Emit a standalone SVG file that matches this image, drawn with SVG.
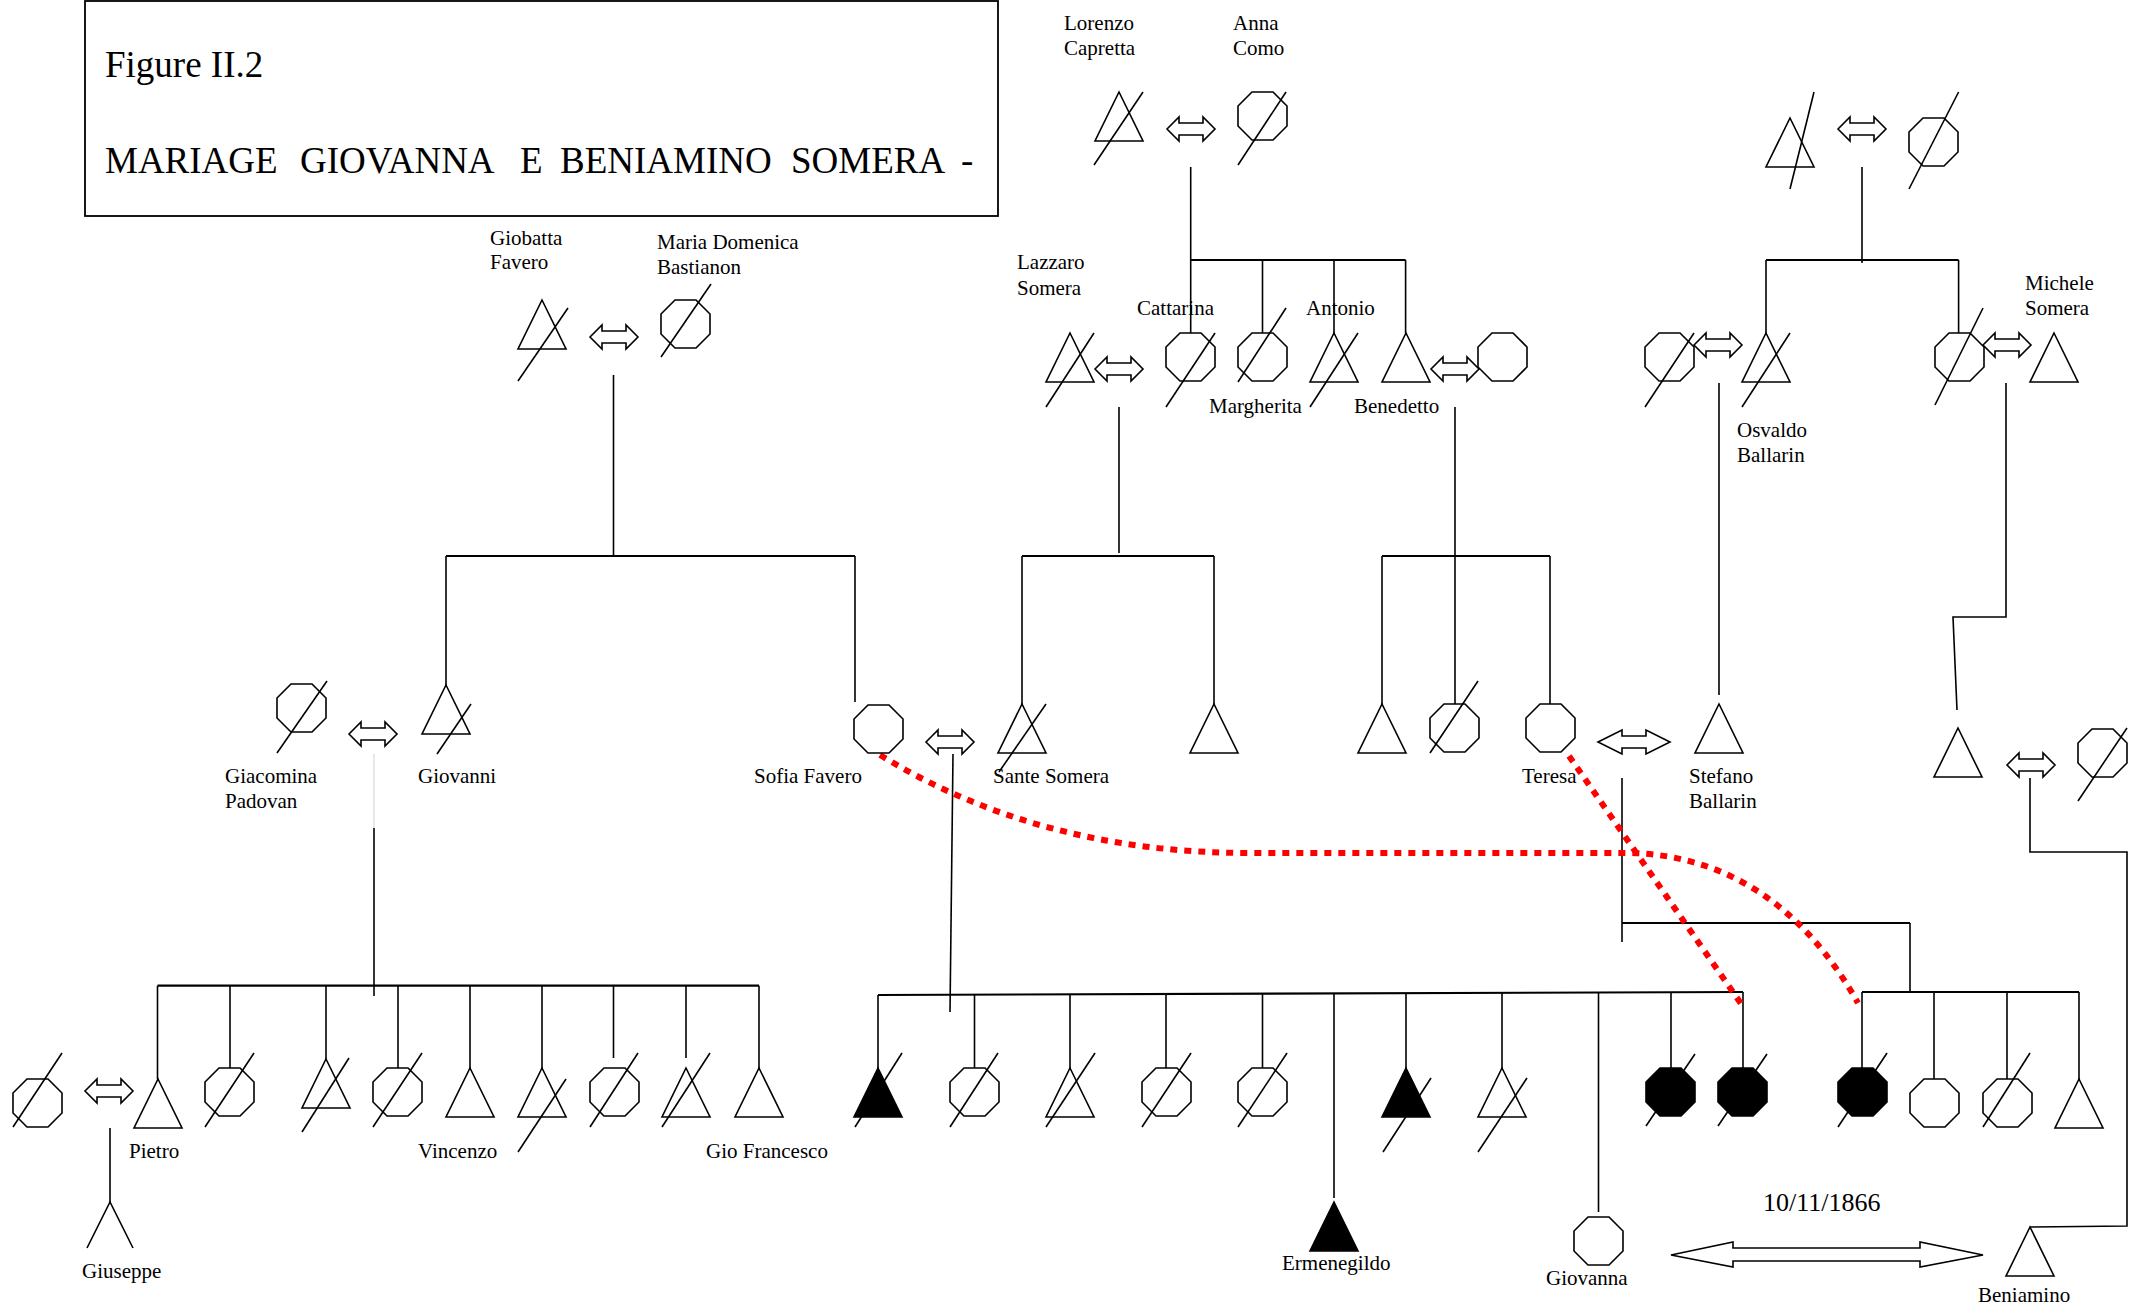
<svg xmlns="http://www.w3.org/2000/svg" xmlns:xlink="http://www.w3.org/1999/xlink" width="2150" height="1312" viewBox="0 0 2150 1312">
<style>
.s{fill:#fff;stroke:#000;stroke-width:1.6}
.b{fill:#000;stroke:#000;stroke-width:1.6}
.ln{stroke:#000;stroke-width:1.6;fill:none}
.hl{stroke:#000;stroke-width:2.2;fill:none}
.t{font-family:"Liberation Serif","Times New Roman",serif;font-size:21px;fill:#000}
.big{font-family:"Liberation Serif","Times New Roman",serif;font-size:37px;fill:#000}
.red{stroke:#ff0000;stroke-width:6;stroke-dasharray:7 7;fill:none}
</style>
<defs>
<path id="oct" d="M14,0 H35 L49,14 V34 L35,48 H14 L0,34 V14 Z"/>
<path id="tri" d="M24,0 L48,49 H0 Z"/>
<path id="dbl" d="M0,12 L12,0 V6 H36 V0 L48,12 L36,24 V18 H12 V24 Z"/>
</defs>
<rect width="2150" height="1312" fill="#fff"/>

<g id="title">
<rect x="85" y="1" width="913" height="215" fill="none" stroke="#000" stroke-width="1.8"/>
<text class="big" x="105" y="77">Figure II.2</text>
<text class="big" y="173"><tspan x="105">MARIAGE</tspan><tspan x="300">GIOVANNA</tspan><tspan x="520">E</tspan><tspan x="560">BENIAMINO</tspan><tspan x="791">SOMERA</tspan><tspan x="961">-</tspan></text>
</g>

<g id="connectors">
<line class="ln" x1="613.5" y1="375" x2="613.5" y2="556"/>
<line class="hl" x1="446" y1="556" x2="855" y2="556"/>
<line class="ln" x1="446" y1="556" x2="446" y2="685"/>
<line class="ln" x1="855" y1="556" x2="855" y2="702"/>
<line class="ln" x1="1190.7" y1="167" x2="1190.7" y2="333"/>
<line class="hl" x1="1190.7" y1="260" x2="1405.6" y2="260"/>
<line class="ln" x1="1262.5" y1="260" x2="1262.5" y2="333"/>
<line class="ln" x1="1334" y1="260" x2="1334" y2="333"/>
<line class="ln" x1="1405.6" y1="260" x2="1405.6" y2="333"/>
<line class="ln" x1="1862" y1="167" x2="1862" y2="263"/>
<line class="hl" x1="1766" y1="260" x2="1958.6" y2="260"/>
<line class="ln" x1="1766" y1="260" x2="1766" y2="333"/>
<line class="ln" x1="1958.6" y1="260" x2="1958.6" y2="333"/>
<line class="ln" x1="1119" y1="407" x2="1119" y2="553"/>
<line class="hl" x1="1022" y1="556" x2="1214" y2="556"/>
<line class="ln" x1="1022" y1="556" x2="1022" y2="704"/>
<line class="ln" x1="1214" y1="556" x2="1214" y2="704"/>
<line class="ln" x1="1455" y1="407" x2="1455" y2="704"/>
<line class="hl" x1="1382" y1="556" x2="1550" y2="556"/>
<line class="ln" x1="1382" y1="556" x2="1382" y2="704"/>
<line class="ln" x1="1550" y1="556" x2="1550" y2="704"/>
<line class="ln" x1="1719" y1="383" x2="1719" y2="695"/>
<polyline class="ln" points="2006,383 2006,617 1953,617 1957,710"/>
<line x1="374" y1="754" x2="374" y2="828" stroke="#dedede" stroke-width="1.4"/>
<line class="ln" x1="374" y1="828" x2="374" y2="996"/>
<line class="hl" x1="157.5" y1="985.7" x2="759" y2="985.7"/>
<line class="ln" x1="157.5" y1="985.7" x2="157.5" y2="1079"/>
<line class="ln" x1="230" y1="985.7" x2="230" y2="1068"/>
<line class="ln" x1="326" y1="985.7" x2="326" y2="1059"/>
<line class="ln" x1="398" y1="985.7" x2="398" y2="1068"/>
<line class="ln" x1="470" y1="985.7" x2="470" y2="1068"/>
<line class="ln" x1="542" y1="985.7" x2="542" y2="1068"/>
<line class="ln" x1="613.5" y1="985.7" x2="613.5" y2="1058"/>
<line class="ln" x1="686" y1="985.7" x2="686" y2="1058"/>
<line class="ln" x1="759" y1="985.7" x2="759" y2="1068"/>
<line class="ln" x1="110" y1="1128" x2="110" y2="1202"/>
<line class="ln" x1="953" y1="754" x2="950" y2="1012"/>
<line class="hl" x1="878" y1="995" x2="1743" y2="992"/>
<line class="ln" x1="878" y1="995" x2="878" y2="1068"/>
<line class="ln" x1="974.5" y1="995" x2="974.5" y2="1068"/>
<line class="ln" x1="1070" y1="995" x2="1070" y2="1068"/>
<line class="ln" x1="1166" y1="994" x2="1166" y2="1068"/>
<line class="ln" x1="1262.5" y1="994" x2="1262.5" y2="1068"/>
<line class="ln" x1="1334" y1="994" x2="1334" y2="1198"/>
<line class="ln" x1="1406" y1="993" x2="1406" y2="1068"/>
<line class="ln" x1="1502" y1="993" x2="1502" y2="1068"/>
<line class="ln" x1="1598.5" y1="993" x2="1598.5" y2="1212"/>
<line class="ln" x1="1671" y1="992" x2="1671" y2="1068"/>
<line class="ln" x1="1743" y1="992" x2="1743" y2="1068"/>
<line class="ln" x1="1622" y1="778" x2="1622" y2="942"/>
<line class="hl" x1="1622" y1="923" x2="1910" y2="923"/>
<line class="ln" x1="1910" y1="923" x2="1910" y2="992"/>
<line class="hl" x1="1862" y1="992" x2="2079" y2="992"/>
<line class="ln" x1="1862" y1="992" x2="1862" y2="1068"/>
<line class="ln" x1="1934" y1="992" x2="1934" y2="1079"/>
<line class="ln" x1="2007" y1="992" x2="2007" y2="1079"/>
<line class="ln" x1="2079" y1="992" x2="2079" y2="1079"/>
<polyline class="ln" points="2030,778 2030,852 2127,852 2127,1226 2030,1227"/>
<path class="s" d="M1671,1255 L1733,1242 V1248 H1920 V1242 L1983,1255 L1920,1267 V1261 H1733 V1267 Z"/>
<path class="red" d="M880,755 Q1040,853 1250,853 L1630,853 C1720,855 1800,900 1858,1003"/>
<path class="red" d="M1569,756 L1742,1005"/>
<use href="#dbl" class="s" x="590" y="325"/>
<use href="#dbl" class="s" x="1167" y="117"/>
<use href="#dbl" class="s" x="1838" y="117"/>
<use href="#dbl" class="s" x="1095" y="357"/>
<use href="#dbl" class="s" x="1431" y="357"/>
<use href="#dbl" class="s" x="1694" y="333"/>
<use href="#dbl" class="s" x="1983" y="333"/>
<use href="#dbl" class="s" x="349" y="722"/>
<use href="#dbl" class="s" x="926" y="730"/>
<path class="s" d="M1598,742 L1622,730 V736 H1646 V730 L1670,742 L1646,754 V748 H1622 V754 Z"/>
<use href="#dbl" class="s" x="2007" y="753"/>
<use href="#dbl" class="s" x="85" y="1079"/>
</g>

<g id="giobatta"><use href="#tri" class="s" x="518" y="300"/><line class="ln" x1="518" y1="381" x2="568" y2="308"/><text class="t" x="490" y="245">Giobatta</text><text class="t" x="490" y="269">Favero</text></g>
<g id="maria-domenica"><use href="#oct" class="s" x="661" y="300"/><line class="ln" x1="661" y1="357" x2="711" y2="284"/><text class="t" x="657" y="249">Maria Domenica</text><text class="t" x="657" y="274">Bastianon</text></g>
<g id="lorenzo"><use href="#tri" class="s" x="1095" y="92"/><line class="ln" x1="1094" y1="165" x2="1143" y2="92"/><text class="t" x="1064" y="30">Lorenzo</text><text class="t" x="1064" y="55">Capretta</text></g>
<g id="anna"><use href="#oct" class="s" x="1238" y="92"/><line class="ln" x1="1238" y1="165" x2="1286" y2="92"/><text class="t" x="1233" y="30">Anna</text><text class="t" x="1233" y="55">Como</text></g>
<g id="ballarin-father"><use href="#tri" class="s" x="1766" y="118"/><line class="ln" x1="1790" y1="189" x2="1814" y2="92"/></g>
<g id="ballarin-mother"><use href="#oct" class="s" x="1909" y="118"/><line class="ln" x1="1909" y1="189" x2="1958.6" y2="92"/></g>

<g id="lazzaro"><use href="#tri" class="s" x="1046" y="333"/><line class="ln" x1="1046" y1="407" x2="1094" y2="333"/><text class="t" x="1017" y="269">Lazzaro</text><text class="t" x="1017" y="295">Somera</text></g>
<g id="cattarina"><use href="#oct" class="s" x="1166" y="333"/><line class="ln" x1="1166" y1="407" x2="1215" y2="333"/><text class="t" x="1137" y="315">Cattarina</text></g>
<g id="margherita"><use href="#oct" class="s" x="1238" y="333"/><line class="ln" x1="1238" y1="382" x2="1286" y2="308"/><text class="t" x="1209" y="413">Margherita</text></g>
<g id="antonio"><use href="#tri" class="s" x="1310" y="333"/><line class="ln" x1="1310" y1="407" x2="1358" y2="333"/><text class="t" x="1306" y="315">Antonio</text></g>
<g id="benedetto"><use href="#tri" class="s" x="1382" y="333"/><text class="t" x="1354" y="413">Benedetto</text></g>
<g id="benedetto-wife"><use href="#oct" class="s" x="1478" y="333"/></g>
<g id="osvaldo-wife"><use href="#oct" class="s" x="1645" y="333"/><line class="ln" x1="1645" y1="407" x2="1694" y2="333"/></g>
<g id="osvaldo"><use href="#tri" class="s" x="1742" y="333"/><line class="ln" x1="1742" y1="407" x2="1790" y2="333"/><text class="t" x="1737" y="437">Osvaldo</text><text class="t" x="1737" y="462">Ballarin</text></g>
<g id="michele-wife"><use href="#oct" class="s" x="1935" y="333"/><line class="ln" x1="1935" y1="405" x2="1983" y2="308"/></g>
<g id="michele"><use href="#tri" class="s" x="2030" y="333"/><text class="t" x="2025" y="290">Michele</text><text class="t" x="2025" y="315">Somera</text></g>

<g id="giacomina"><use href="#oct" class="s" x="277" y="684"/><line class="ln" x1="277" y1="753" x2="327" y2="681"/><text class="t" x="225" y="783">Giacomina</text><text class="t" x="225" y="808">Padovan</text></g>
<g id="giovanni"><use href="#tri" class="s" x="422" y="685"/><line class="ln" x1="437" y1="754" x2="471" y2="704"/><text class="t" x="418" y="783">Giovanni</text></g>
<g id="sofia"><use href="#oct" class="s" x="854" y="705"/><text class="t" x="754" y="783">Sofia Favero</text></g>
<g id="sante"><use href="#tri" class="s" x="998" y="704"/><line class="ln" x1="999" y1="772" x2="1046" y2="704"/><text class="t" x="993" y="783">Sante Somera</text></g>
<g id="sante-brother"><use href="#tri" class="s" x="1190" y="704"/></g>
<g id="benedetto-son"><use href="#tri" class="s" x="1358" y="704"/></g>
<g id="benedetto-daughter"><use href="#oct" class="s" x="1430" y="704"/><line class="ln" x1="1430" y1="753" x2="1478" y2="681"/></g>
<g id="teresa"><use href="#oct" class="s" x="1526" y="704"/><text class="t" x="1522" y="783">Teresa</text></g>
<g id="stefano"><use href="#tri" class="s" x="1695" y="704"/><text class="t" x="1689" y="783">Stefano</text><text class="t" x="1689" y="808">Ballarin</text></g>
<g id="michele-son"><use href="#tri" class="s" x="1934" y="728"/></g>
<g id="michele-son-wife"><use href="#oct" class="s" x="2078" y="729"/><line class="ln" x1="2078" y1="801" x2="2127" y2="728"/></g>

<g id="pietro-wife"><use href="#oct" class="s" x="13" y="1079"/><line class="ln" x1="13" y1="1127" x2="62" y2="1053"/></g>
<g id="pietro"><use href="#tri" class="s" x="134" y="1079"/><text class="t" x="129" y="1158">Pietro</text></g>
<g id="giuseppe"><polyline class="ln" points="87,1248 110,1202 133,1248"/><text class="t" x="82" y="1278">Giuseppe</text></g>
<g id="gc2"><use href="#oct" class="s" x="205" y="1068"/><line class="ln" x1="205" y1="1127" x2="254" y2="1053"/></g>
<g id="gc3"><use href="#tri" class="s" x="302" y="1059"/><line class="ln" x1="302" y1="1132" x2="349" y2="1058"/></g>
<g id="gc4"><use href="#oct" class="s" x="373" y="1068"/><line class="ln" x1="373" y1="1127" x2="422" y2="1053"/></g>
<g id="vincenzo"><use href="#tri" class="s" x="446" y="1068"/><text class="t" x="418" y="1158">Vincenzo</text></g>
<g id="gc6"><use href="#tri" class="s" x="518" y="1068"/><line class="ln" x1="518" y1="1152" x2="566" y2="1079"/></g>
<g id="gc7"><use href="#oct" class="s" x="590" y="1068"/><line class="ln" x1="590" y1="1127" x2="638" y2="1053"/></g>
<g id="gc8"><use href="#tri" class="s" x="662" y="1068"/><line class="ln" x1="662" y1="1127" x2="710" y2="1053"/></g>
<g id="gio-francesco"><use href="#tri" class="s" x="735" y="1068"/><text class="t" x="706" y="1158">Gio Francesco</text></g>

<g id="sc1"><use href="#tri" class="b" x="854" y="1068"/><line class="ln" x1="855" y1="1127" x2="902" y2="1053"/></g>
<g id="sc2"><use href="#oct" class="s" x="950" y="1068"/><line class="ln" x1="950" y1="1127" x2="998" y2="1053"/></g>
<g id="sc3"><use href="#tri" class="s" x="1046" y="1068"/><line class="ln" x1="1046" y1="1127" x2="1095" y2="1053"/></g>
<g id="sc4"><use href="#oct" class="s" x="1142" y="1068"/><line class="ln" x1="1142" y1="1127" x2="1191" y2="1053"/></g>
<g id="sc5"><use href="#oct" class="s" x="1238" y="1068"/><line class="ln" x1="1238" y1="1127" x2="1287" y2="1053"/></g>
<g id="ermenegildo"><use href="#tri" class="b" x="1310" y="1202"/><text class="t" x="1282" y="1270">Ermenegildo</text></g>
<g id="sc7"><use href="#tri" class="b" x="1382" y="1068"/><line class="ln" x1="1383" y1="1152" x2="1431" y2="1078"/></g>
<g id="sc8"><use href="#tri" class="s" x="1478" y="1068"/><line class="ln" x1="1478" y1="1152" x2="1527" y2="1078"/></g>
<g id="giovanna"><use href="#oct" class="s" x="1574" y="1217"/><text class="t" x="1546" y="1285">Giovanna</text></g>
<g id="sc10"><use href="#oct" class="b" x="1646" y="1068"/><line class="ln" x1="1646" y1="1126" x2="1695" y2="1054"/></g>
<g id="sc11"><use href="#oct" class="b" x="1718" y="1068"/><line class="ln" x1="1718" y1="1126" x2="1767" y2="1054"/></g>

<g id="tc1"><use href="#oct" class="b" x="1838" y="1068"/><line class="ln" x1="1838" y1="1127" x2="1887" y2="1053"/></g>
<g id="tc2"><use href="#oct" class="s" x="1910" y="1079"/></g>
<g id="tc3"><use href="#oct" class="s" x="1983" y="1079"/><line class="ln" x1="1983" y1="1127" x2="2030" y2="1053"/></g>
<g id="tc4"><use href="#tri" class="s" x="2055" y="1079"/></g>

<g id="beniamino"><use href="#tri" class="s" x="2006" y="1227"/><text class="t" x="1978" y="1302">Beniamino</text></g>
<g id="date"><text class="t" x="1763" y="1211" style="font-size:26px">10/11/1866</text></g>
</svg>
